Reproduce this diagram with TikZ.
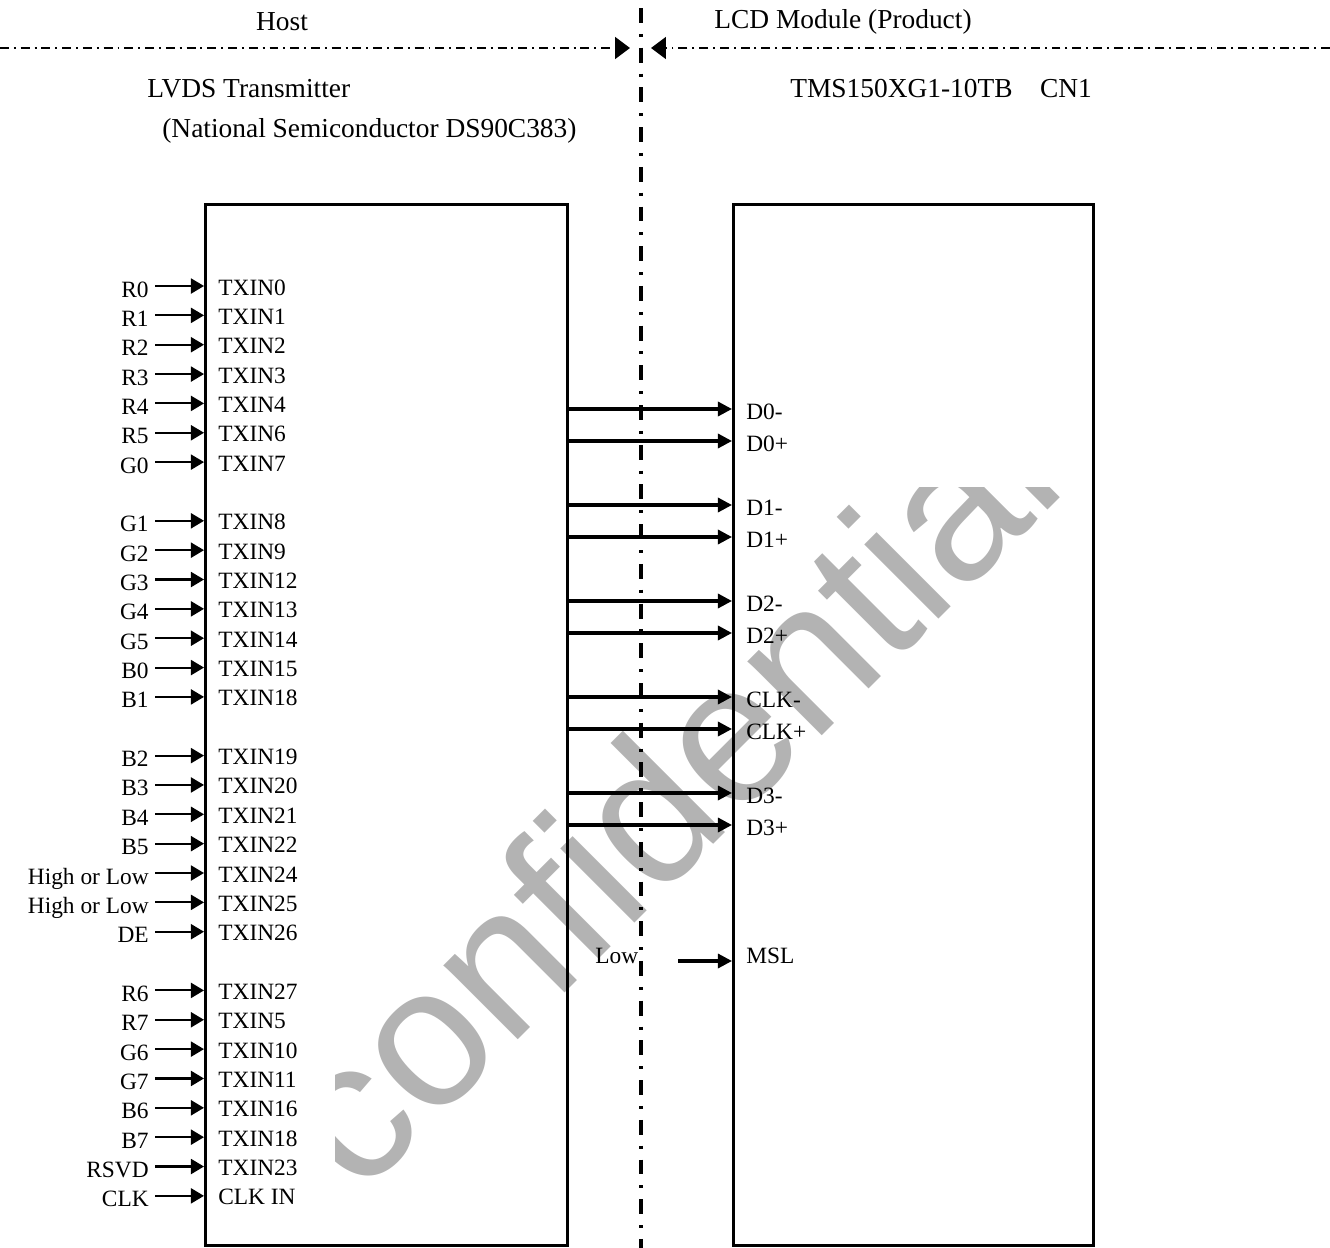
\documentclass[tikz,border=0pt]{standalone}
\usepackage{fontspec}
\setmainfont{Liberation Serif}
\newfontfamily\wmfont{Liberation Sans}
\usepackage{xcolor}
\definecolor{wmgray}{HTML}{B3B3B3}
\usepackage{tikz}
\usetikzlibrary{arrows.meta,positioning,calc}

\begin{document}
\begin{tikzpicture}[x=0.02cm,y=-0.02cm,
  hdr/.style={inner sep=0pt,font=\fontsize{15.6}{18}\selectfont},
  lbl/.style={inner sep=0pt,font=\fontsize{13.3}{15}\selectfont},
  wm/.style={inner sep=0pt,text=wmgray,font=\wmfont\fontsize{113}{120}\selectfont},
  chip/.style={draw,line width=1.7pt,anchor=north west,inner sep=0pt,minimum height=20.82cm},
  pinarrow/.style={line width=1.2pt,-{Triangle[length=7.4pt,width=8.5pt]}},
  busarrow/.style={line width=1.8pt,-{Triangle[length=8pt,width=8pt]}},
  vbound/.style={line width=1.9pt,dash pattern=on 8.5pt off 6.2pt on 1.7pt off 6.2pt},
  hbound/.style={line width=0.85pt,dash pattern=on 5.1pt off 2.8pt on 1.1pt off 2.8pt,
    -{Triangle[length=8.5pt,width=12.5pt]}}]
\useasboundingbox (0,0) rectangle (1330,1248);

% watermark
\begin{scope}
  \clip (335,487) rectangle (1330,1248);
  \node[wm,rotate=45,anchor=base] (mark) at (715,843) {confidential};
\end{scope}

% host / module boundary
\coordinate (vt) at (641,8);
\coordinate (vb) at (641,1248);
\draw[vbound] (vt) -- (vb);
\coordinate (hl) at (0,48);
\coordinate (ml) at (630,48);
\coordinate (hr) at (1330,48);
\coordinate (mr) at (651,48);
\draw[hbound] (hl) -- (ml);
\draw[hbound] (hr) -- (mr);

% headings
\node[hdr] (host) at (282,22) {Host};
\node[hdr,anchor=west] (module) at (714,22) {LCD Module (Product)};
\node[hdr,anchor=west] (lvds) at (147,89) {LVDS Transmitter};
\node[hdr,anchor=west] (natsemi) at (162,131) {(National Semiconductor DS90C383)};
\node[hdr,anchor=west] (cn) at (790,89) {TMS150XG1-10TB\quad CN1};

% the two blocks
\node[chip,minimum width=7.24cm] (tx) at (204,203) {};
\node[chip,minimum width=7.2cm] (lcd) at (732,203) {};

% transmitter inputs
\foreach \row/\sig/\pin in {0/R0/TXIN0,1/R1/TXIN1,2/R2/TXIN2,3/R3/TXIN3,
    4/R4/TXIN4,5/R5/TXIN6,6/G0/TXIN7,
    8/G1/TXIN8,9/G2/TXIN9,10/G3/TXIN12,11/G4/TXIN13,12/G5/TXIN14,
    13/B0/TXIN15,14/B1/TXIN18,
    16/B2/TXIN19,17/B3/TXIN20,18/B4/TXIN21,19/B5/TXIN22,
    20/High or Low/TXIN24,21/High or Low/TXIN25,22/DE/TXIN26,
    24/R6/TXIN27,25/R7/TXIN5,26/G6/TXIN10,27/G7/TXIN11,
    28/B6/TXIN16,29/B7/TXIN18,30/RSVD/TXIN23,31/CLK/CLK IN}{
  \coordinate (a\row) at (155,{286+29.35*\row});
  \node[lbl,anchor=base east] (s\row) at (149,{297+29.35*\row}) {\sig};
  \node[lbl,anchor=base west] (t\row) at (218,{295+29.35*\row}) {\pin};
  \draw[pinarrow] (a\row) -- (a\row -| tx.west);
}

% LVDS pairs
\foreach \y/\name [count=\k] in {409/D0-,441/D0+,505/D1-,537/D1+,601/D2-,
    633/D2+,697/CLK-,729/CLK+,793/D3-,825/D3+}{
  \coordinate (b\k) at (566,\y);
  \node[lbl,anchor=base west] (d\k) at (746,\y+10) {\name};
  \draw[busarrow] (b\k) -- (b\k -| lcd.west);
}

% mode select
\node[lbl,anchor=base west] (low) at (595,963) {Low};
\node[lbl,anchor=base west] (msl) at (746,963) {MSL};
\coordinate (lowend) at (678,961);
\draw[busarrow] (lowend) -- (lowend -| lcd.west);
\end{tikzpicture}
\end{document}
